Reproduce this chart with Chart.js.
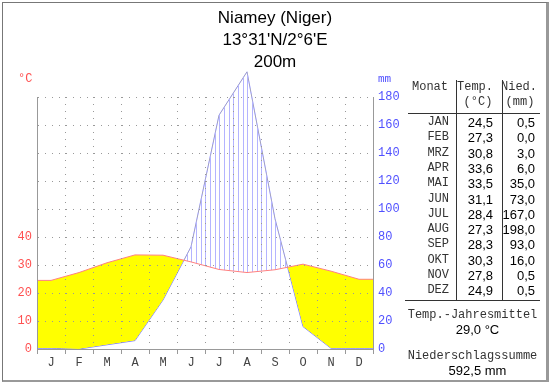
<!DOCTYPE html>
<html>
<head>
<meta charset="utf-8">
<script src="https://cdn.jsdelivr.net/npm/chart.js@4"></script>
<style>
  body { margin: 0; background: #fff; }
  #wrap { position: relative; width: 550px; height: 384px; overflow: hidden; background: #fff; }
  #frame { position: absolute; left: 2px; top: 2px; width: 543px; height: 377px;
           border-top: 1px solid #777; border-left: 1px solid #777;
           border-right: 3px solid #999; border-bottom: 2px solid #999; }
  canvas { position: absolute; left: 0; top: 0; }
  .sans { position: absolute; font-family: "Liberation Sans", Arial, sans-serif; color: #000; white-space: nowrap; }
  .mono { position: absolute; font-family: "Liberation Mono", monospace; font-size: 12px; color: #333; white-space: nowrap; }
  .ln { position: absolute; background: #333; }
  #title { left: 150px; width: 250px; top: 7px; text-align: center; font-size: 17px; line-height: 22px; }
</style>
</head>
<body>
<div id="wrap">
  <canvas id="climate" width="550" height="384"></canvas>
  <div id="frame"></div>
  <div id="title" class="sans">Niamey (Niger)<br>13°31'N/2°6'E<br>200m</div>
  <div class="mono" style="left:18px;top:72px;color:#ff5050;">°C</div>
  <div class="mono" style="left:378px;top:73px;color:#5050ff;font-size:11px;">mm</div>
  <div id="table"></div>
</div>
<script>
// Niamey climate normals
const monthLetters = ['J', 'F', 'M', 'A', 'M', 'J', 'J', 'A', 'S', 'O', 'N', 'D'];
const monthNames = ['JAN', 'FEB', 'MRZ', 'APR', 'MAI', 'JUN', 'JUL', 'AUG', 'SEP', 'OKT', 'NOV', 'DEZ'];
const temperature = [24.5, 27.3, 30.8, 33.6, 33.5, 31.1, 28.4, 27.3, 28.3, 30.3, 27.8, 24.9];
const precipitation = [0.5, 0.0, 3.0, 6.0, 35.0, 73.0, 167.0, 198.0, 93.0, 16.0, 0.5, 0.5];

const fmt = v => v.toFixed(1).replace('.', ',');

// points at month centres, flat to both edges
function monthPoints(values) {
    const pts = [{ x: 0, y: values[0] }];
    values.forEach((v, i) => pts.push({ x: i + 0.5, y: v }));
    pts.push({ x: 12, y: values[values.length - 1] });
    return pts;
}

function hatchPattern() {
    const c = document.createElement('canvas');
    c.width = 14;
    c.height = 4;
    const g = c.getContext('2d');
    g.fillStyle = '#b4b4ff';
    [0, 5, 9].forEach(x => g.fillRect(x, 0, 1, 4));
    return g.createPattern(c, 'repeat');
}

// side table
const table = document.getElementById('table');
function put(cls, text, style) {
    const d = document.createElement('div');
    d.className = cls;
    d.textContent = text;
    d.style.cssText = style;
    table.appendChild(d);
}
put('mono', 'Monat', 'left:412px;top:80px;');
put('mono', 'Temp.', 'left:440px;width:70px;text-align:center;top:80px;');
put('mono', '(°C)', 'left:443px;width:70px;text-align:center;top:95px;');
put('mono', 'Nied.', 'left:484px;width:70px;text-align:center;top:80px;');
put('mono', '(mm)', 'left:485px;width:70px;text-align:center;top:95px;');
monthNames.forEach((m, i) => {
    const top = 115 + i * 15.3;
    put('mono', m, 'right:' + (550 - 449) + 'px;top:' + top + 'px;');
    put('sans', fmt(temperature[i]), 'right:' + (550 - 493) + 'px;top:' + top + 'px;font-size:13px;');
    put('sans', fmt(precipitation[i]), 'right:' + (550 - 535) + 'px;top:' + top + 'px;font-size:13px;');
});
const meanT = temperature.reduce((a, b) => a + b, 0) / temperature.length;
const sumP = precipitation.reduce((a, b) => a + b, 0);
put('mono', 'Temp.-Jahresmittel', 'left:405px;width:135px;text-align:center;top:308px;');
put('sans', fmt(meanT) + ' °C', 'left:405px;width:145px;text-align:center;top:322px;font-size:13px;');
put('mono', 'Niederschlagssumme', 'left:405px;width:135px;text-align:center;top:349px;');
put('sans', fmt(sumP) + ' mm', 'left:405px;width:145px;text-align:center;top:363px;font-size:13px;');
[['left:456px;top:80px;width:1px;height:220px;'],
 ['left:502px;top:80px;width:1px;height:220px;'],
 ['left:408px;top:113px;width:132px;height:1px;'],
 ['left:405px;top:300px;width:135px;height:1px;']].forEach(s => put('ln', '', s[0]));

const gridGrey = '#999';
const tickFont = { family: 'Liberation Mono', size: 12 };

// let the humid fill run above the 180 mm line like the peak does
const fillOverflow = {
    id: 'fillOverflow',
    beforeDatasetsDraw(chart) {
        this.savedTop = chart.chartArea.top;
        chart.chartArea.top = 0;
    },
    afterDatasetsDraw(chart) {
        chart.chartArea.top = this.savedTop;
    }
};

var ctx = document.getElementById('climate').getContext('2d');
var climateChart = new Chart(ctx, {
    type: 'line',
    data: {
        datasets: [{
            label: 'Temperatur',
            data: monthPoints(temperature),
            xAxisID: 'x',
            yAxisID: 'y',
            borderColor: '#ff8080',
            borderWidth: 1,
            pointRadius: 0,
            tension: 0,
            fill: { target: 1, above: '#ffff00', below: hatchPattern() }
        }, {
            label: 'Niederschlag',
            data: monthPoints(precipitation),
            xAxisID: 'x',
            yAxisID: 'y2',
            borderColor: '#8080ff',
            borderWidth: 1,
            pointRadius: 0,
            tension: 0,
            fill: false,
            clip: false
        }]
    },
    options: {
        responsive: false,
        animation: false,
        layout: { padding: { top: 97, left: 0, right: 0, bottom: 0 } },
        plugins: {
            legend: { display: false },
            tooltip: { enabled: false }
        },
        scales: {
            x: { type: 'linear', min: 0, max: 12, display: false, clip: false },
            xm: {
                type: 'category',
                labels: monthLetters,
                position: 'bottom',
                offset: true,
                grid: { offset: true, color: gridGrey, z: 1, tickLength: 5, tickColor: gridGrey, tickBorderDash: [] },
                border: { color: gridGrey, dash: [1, 6], z: 2 },
                ticks: { color: '#444', font: tickFont, padding: 2, maxRotation: 0, autoSkip: false },
                afterFit(scale) { scale.height = 35; }
            },
            y: {
                position: 'left',
                min: 0,
                max: 90,
                clip: false,
                grid: { color: gridGrey, z: 1, drawTicks: false },
                border: { color: gridGrey, dash: [1, 6], z: 2 },
                ticks: {
                    stepSize: 10,
                    color: '#ff5050',
                    font: tickFont,
                    padding: 5,
                    callback: v => (v <= 40 ? v : '')
                },
                afterFit(scale) { scale.width = 37; }
            },
            y2: {
                position: 'right',
                min: 0,
                max: 180,
                clip: false,
                grid: { drawOnChartArea: false, drawTicks: false },
                border: { color: gridGrey, z: 2 },
                ticks: { stepSize: 20, color: '#5050ff', font: tickFont, padding: 5 },
                afterFit(scale) { scale.width = 177; }
            }
        }
    },
    plugins: [fillOverflow]
});
</script>
</body>
</html>
